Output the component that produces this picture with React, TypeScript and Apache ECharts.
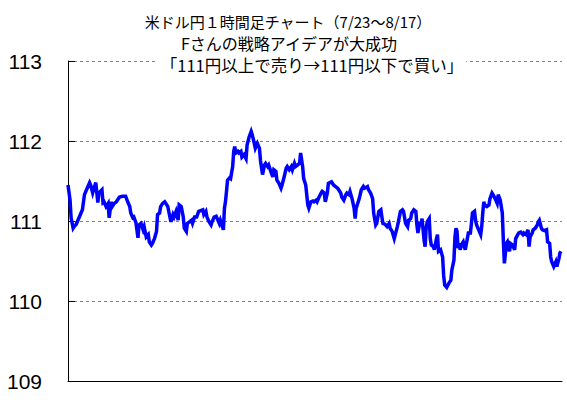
import React, { useEffect, useRef } from 'react';
import * as echarts from 'echarts';

const titleLines = [
  '米ドル円１時間足チャート（7/23～8/17）',
  'Fさんの戦略アイデアが大成功',
  '「111円以上で売り→111円以下で買い」',
];

const yTicks = [109, 110, 111, 112, 113];
const totalHours = 480;

// hours since 7/23 start
const hours = [
  0, 2, 3, 5, 6, 8, 11, 14, 16, 18, 21, 22, 24, 27, 29, 30, 33, 34, 35, 37,
  39, 40, 42, 43, 45, 47, 50, 53, 56, 58, 60, 61, 63, 64, 66, 68, 69, 71, 73, 74,
  76, 78, 79, 81, 82, 84, 86, 87, 89, 90, 92, 94, 95, 97, 99, 100, 102, 103, 105, 107,
  108, 110, 112, 113, 115, 116, 118, 120, 121, 123, 125, 127, 131, 132, 134, 135, 137, 139, 140, 142,
  144, 145, 147, 148, 150, 151, 152, 153, 154, 155, 157, 158, 160, 161, 162, 163, 165, 166, 168, 169,
  171, 173, 174, 176, 178, 179, 181, 182, 184, 186, 187, 189, 191, 192, 194, 195, 197, 199, 200, 202,
  203, 205, 207, 208, 210, 212, 213, 215, 217, 218, 220, 221, 223, 225, 226, 228, 229, 231, 233, 234,
  236, 238, 239, 241, 242, 244, 246, 247, 249, 250, 252, 253, 256, 258, 260, 262, 263, 265, 266, 268,
  270, 271, 273, 274, 276, 278, 279, 280, 282, 283, 285, 287, 288, 291, 292, 294, 296, 297, 299, 300,
  302, 304, 305, 306, 308, 310, 312, 313, 315, 317, 318, 320, 321, 323, 325, 326, 328, 330, 331, 333,
  334, 336, 338, 339, 340, 342, 343, 344, 346, 347, 348, 349, 351, 352, 353, 355, 356, 358, 359, 360,
  362, 364, 365, 366, 368, 370, 372, 373, 375, 376, 377, 378, 379, 380, 381, 383, 384, 386, 388, 389,
  391, 392, 393, 395, 396, 397, 399, 401, 402, 403, 404, 405, 407, 409, 410, 412, 413, 415, 417, 418,
  420, 422, 423, 424, 426, 427, 429, 430, 432, 434, 435, 437, 438, 440, 442, 443, 445, 447, 448, 449,
  451, 452, 454, 456, 457, 458, 460, 461, 463, 465, 466, 468, 469, 470, 472, 474, 475, 477, 478, 479,
];

const prices = [
  111.45, 111.26, 111.04, 110.91, 110.93, 110.96, 111.05, 111.14, 111.33, 111.39, 111.48, 111.45, 111.35, 111.48, 111.23, 111.35, 111.39, 111.23, 111.24, 111.18,
  111.22, 111.04, 111.24, 111.18, 111.22, 111.24, 111.30, 111.31, 111.31, 111.24, 111.18, 111.10, 111.04, 111.05, 110.98, 110.79, 110.95, 110.97, 110.89, 110.93,
  110.80, 110.83, 110.74, 110.70, 110.72, 110.78, 110.87, 111.08, 111.10, 111.18, 111.22, 111.24, 111.22, 111.18, 111.05, 110.99, 111.08, 111.05, 111.12, 111.01,
  111.20, 111.18, 111.05, 110.91, 110.87, 110.97, 110.99, 111.01, 110.97, 111.05, 111.05, 111.12, 111.14, 111.08, 111.12, 111.05, 110.99, 110.95, 110.99, 111.05,
  111.06, 111.03, 110.97, 111.01, 110.93, 110.89, 111.16, 111.24, 111.37, 111.51, 111.54, 111.53, 111.68, 111.87, 111.93, 111.85, 111.87, 111.85, 111.87, 111.80,
  111.83, 111.78, 111.95, 112.05, 112.12, 112.08, 111.97, 111.91, 111.97, 111.91, 111.76, 111.58, 111.70, 111.72, 111.68, 111.70, 111.62, 111.55, 111.64, 111.62,
  111.51, 111.47, 111.41, 111.45, 111.55, 111.66, 111.68, 111.64, 111.68, 111.64, 111.72, 111.68, 111.70, 111.72, 111.85, 111.68, 111.53, 111.45, 111.20, 111.16,
  111.24, 111.25, 111.24, 111.26, 111.24, 111.30, 111.35, 111.37, 111.35, 111.24, 111.35, 111.47, 111.49, 111.45, 111.43, 111.41, 111.39, 111.35, 111.30, 111.26,
  111.33, 111.35, 111.33, 111.37, 111.28, 111.16, 111.03, 111.16, 111.24, 111.28, 111.39, 111.43, 111.41, 111.43, 111.39, 111.35, 111.28, 111.10, 110.95, 110.97,
  111.12, 111.14, 111.05, 110.97, 110.96, 110.93, 110.97, 110.91, 110.87, 110.78, 110.83, 110.93, 110.99, 111.12, 111.14, 111.12, 110.97, 110.93, 111.01, 111.03,
  111.10, 111.14, 111.12, 110.95, 110.85, 110.99, 110.95, 111.03, 110.76, 110.68, 110.91, 110.99, 111.03, 110.78, 110.70, 110.68, 110.64, 110.78, 110.83, 110.62,
  110.64, 110.55, 110.32, 110.20, 110.17, 110.22, 110.26, 110.39, 110.51, 110.80, 110.91, 110.87, 110.66, 110.72, 110.64, 110.72, 110.74, 110.64, 110.78, 110.85,
  110.85, 110.97, 111.10, 111.12, 111.01, 110.95, 110.89, 110.83, 110.93, 111.10, 111.24, 111.20, 111.18, 111.20, 111.28, 111.35, 111.33, 111.28, 111.22, 111.33,
  111.26, 111.10, 110.76, 110.47, 110.72, 110.74, 110.62, 110.72, 110.70, 110.64, 110.78, 110.83, 110.85, 110.86, 110.83, 110.85, 110.83, 110.89, 110.68, 110.80,
  110.85, 110.89, 110.91, 110.95, 110.99, 111.01, 110.91, 110.89, 110.88, 110.89, 110.74, 110.72, 110.55, 110.49, 110.43, 110.49, 110.43, 110.53, 110.60, 110.62,
];

export default function App() {
  const ref = useRef<HTMLDivElement>(null);

  useEffect(() => {
    const chart = echarts.init(ref.current as HTMLDivElement, null, { renderer: 'svg' });
    const fontFamily = '"Noto Sans CJK JP"';
    chart.setOption({
      animation: false,
      backgroundColor: '#ffffff',
      grid: { left: 68, right: 5, top: 61, bottom: 22, containLabel: false },
      xAxis: {
        type: 'value',
        min: 0,
        max: totalHours,
        axisLine: { show: true, lineStyle: { color: '#000', width: 1 } },
        axisTick: { show: false },
        axisLabel: { show: false },
        splitLine: { show: false },
      },
      yAxis: {
        type: 'value',
        min: yTicks[0],
        max: yTicks[yTicks.length - 1],
        interval: 1,
        axisLine: { show: true, lineStyle: { color: '#000', width: 1 } },
        axisTick: { show: true, inside: true, length: 7, lineStyle: { color: '#000', width: 1 } },
        axisLabel: {
          color: '#000',
          fontSize: 21,
          fontFamily: '"Liberation Sans", Arial, sans-serif',
          margin: 26,
        },
        splitLine: { show: true, lineStyle: { color: '#808080', type: [3, 3], width: 1 } },
      },
      series: [
        {
          type: 'line',
          data: hours.map((h, i) => [h, prices[i]]),
          showSymbol: false,
          symbol: 'none',
          lineStyle: { color: '#0000ff', width: 3.5, join: 'miter' },
          z: 3,
        },
      ],
      graphic: [
        {
          type: 'text',
          x: 288,
          y: 21,
          z: 100,
          style: { text: titleLines[0], font: `15px ${fontFamily}`, fill: '#000', align: 'center', verticalAlign: 'middle' },
        },
        {
          type: 'text',
          x: 289,
          y: 43,
          z: 100,
          style: { text: titleLines[1], font: `16px ${fontFamily}`, fill: '#000', align: 'center', verticalAlign: 'middle' },
        },
        {
          type: 'text',
          x: 312,
          y: 65,
          z: 100,
          style: {
            text: titleLines[2],
            font: `16.5px ${fontFamily}`,
            fill: '#000',
            align: 'center',
            verticalAlign: 'middle',
            backgroundColor: '#ffffff',
            padding: [1, 3],
          },
        },
      ],
    });
    return () => chart.dispose();
  }, []);

  return (
    <div
      ref={ref}
      style={{ position: 'fixed', left: 0, top: 0, width: 567, height: 403, background: '#fff' }}
    />
  );
}
